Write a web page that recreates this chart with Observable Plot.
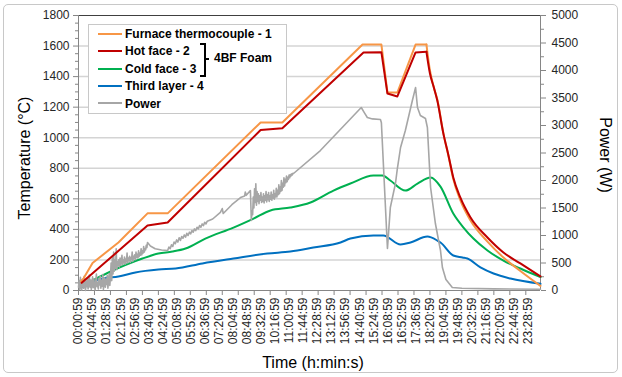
<!DOCTYPE html>
<html><head><meta charset="utf-8">
<script src="https://cdn.jsdelivr.net/npm/d3@7"></script>
<script src="https://cdn.jsdelivr.net/npm/@observablehq/plot@0.6"></script>
<style>
body{margin:0;background:#fff;font-family:"Liberation Sans",Arial,sans-serif;}
#wrap{position:relative;width:622px;height:377px;overflow:hidden;}
#frame{position:absolute;left:3px;top:4px;width:613px;height:367px;border:1px solid #c8c8c8;border-radius:5px;}
.t{position:absolute;font-size:16px;color:#000;white-space:nowrap;}
#legend{position:absolute;left:88px;top:24px;width:197px;height:88px;border:1px solid #c8c8c8;background:#fff;font-weight:bold;font-size:12px;}
.row{position:absolute;left:9px;height:14px;line-height:14px;}
.row i{display:inline-block;width:24px;height:2px;vertical-align:middle;margin-right:3px;position:relative;top:-1px;}
</style></head><body>
<div id="wrap"><div id="frame"></div><div id="chart"></div></div>
<script>
// ---- data (minutes after 00:00:59) ----
const xLabels = ["00:00:59","00:44:59","01:28:59","02:12:59","02:56:59","03:40:59","04:24:59","05:08:59","05:52:59","06:36:59","07:20:59","08:04:59","08:48:59","09:32:59","10:16:59","11:00:59","11:44:59","12:28:59","13:12:59","13:56:59","14:40:59","15:24:59","16:08:59","16:52:59","17:36:59","18:20:59","19:04:59","19:48:59","20:32:59","21:16:59","22:00:59","22:44:59","23:28:59"];
const tempTicks = [0,200,400,600,800,1000,1200,1400,1600,1800];
const powerTicks = [0,500,1000,1500,2000,2500,3000,3500,4000,4500,5000];

const furnaceT = [8,16,44,125,216,279,570,638,889,948,967,998,1055,1089,1100,1112,1123,1142,1158,1173,1195,1227,1280,1330,1383,1446];
const furnaceV = [60,80,180,314,505,505,1100,1100,1610,1610,1296,1296,1610,1610,1440,1330,1250,1030,880,730,592,458,320,216,128,30];

const hotT = [10,216,279,570,638,892,948,967,998,1055,1089,1100,1112,1123,1142,1158,1173,1195,1227,1280,1330,1383,1446];
const hotV = [50,425,445,1050,1062,1558,1560,1289,1270,1558,1562,1420,1330,1243,1027,884,740,609,478,347,249,177,92];

const coldT = [10,31,94,200,250,294,335,397,485,548,601,663,726,798,851,923,951,976,1023,1061,1102,1133,1173,1205,1236,1280,1330,1383,1446];
const coldV = [30,52,118,209,242,255,275,340,412,471,524,543,576,654,700,753,753,720,654,700,740,680,504,412,340,262,196,144,88];

const thirdT = [10,22,75,125,178,250,304,388,485,591,663,735,820,851,923,954,1008,1039,1092,1123,1133,1173,1202,1217,1258,1299,1352,1446];
const thirdV = [20,33,78,92,118,137,144,177,209,242,255,281,314,340,360,360,301,314,353,327,314,229,216,209,151,111,78,44];

// power: noisy early part, every 2 min from 0
const powerEarly = [60,180,20,240,90,10,200,130,40,260,110,0,170,70,230,30,150,280,60,190,20,120,250,50,210,90,10,160,300,70,140,30,220,100,260,40,180,80,290,20,150,230,60,200,110,270,40,170,310,90,240,
 500,180,620,300,700,350,560,400,760,380,520,450,560,430,590,460,520,640,470,560,500,610,480,570,520,680,500,590,540,620,510,600,560,700,530,620,580,650,560,700,600,660,590,720,620,680,640,760,650,720,680,800,700,760,740,820,780,873];
const powerDecayT = [225,240,260,279];
const powerDecayW = [810,760,735,727];
// every 4 min from 283
const powerRise = [790,760,830,800,880,850,920,880,960,910,980,950,1010,970,1040,1000,1060,1030,1090,1060,1120,1090,1150,1120,1180,1150,1210,1180,1240,1210,1260];
const powerMidT = [420,444,450,453,480,507,520,522,525,538,541];
const powerMidW = [1300,1420,1490,1400,1560,1690,1720,1790,1730,1818,1273];
// every 2 min from 543
const powerBand = [1450,1380,1700,1500,1850,1600,1940,1550,1800,1620,1760,1580,1720,1640,1780,1600,1700,1620,1760,1590,1720,1640,1800,1610,1740,1650,1780,1620,1720,1660,1790,1640,1740,1680,1820,1660,1760,1700,1860,1700,1820,1740,1920,1760,1880,1800,2000,1820,1950,1880,2050,1900,2020,1960,2080,1980,2060,2020,2100,2050,2110,2080,2120,2100,2130,2127];
const powerLateT = [757,885,895,904,920,945,948,967,976,992,998,1008,1023,1045,1055,1061,1070,1086,1092,1102,1117,1133,1139,1150,1170,1200,1300,1446];
const powerLateW = [2545,3327,3230,3145,3120,3110,3050,764,1509,1945,2218,2600,2909,3454,3690,3327,3181,3127,2963,1873,1218,727,418,200,55,40,30,22];

// ---- build tables ----
const pairs = (T, V) => T.map((t, i) => ({t, v: V[i]}));
const stepped = (start, step, V) => V.map((v, i) => ({t: start + i * step, v}));
const power = [
  ...stepped(0, 2, powerEarly),
  ...pairs(powerDecayT, powerDecayW),
  ...stepped(283, 4, powerRise),
  ...pairs(powerMidT, powerMidW),
  ...stepped(543, 2, powerBand),
  ...pairs(powerLateT, powerLateW)
].sort((a, b) => a.t - b.t);
const k = 1800 / 5000;
const furnace = pairs(furnaceT, furnaceV), hot = pairs(hotT, hotV);
const coolStart = 1089;

const labelTimes = xLabels.map((_, i) => i * 44);
const labelOf = new Map(labelTimes.map((t, i) => [t, xLabels[i]]));
const tickTimes = d3.range(0, 1401, 50);
const minorTemp = d3.range(0, 1801, 50).filter(v => v % 200);
const minorPower = d3.range(250, 5000, 500).map(p => p * k);

const C = {furnace:"#F79646", hot:"#C00000", cold:"#00B050", third:"#0070C0", power:"#A6A6A6"};
const axisCol = "#868686";

const chart = Plot.plot({
  width: 622, height: 377,
  marginLeft: 78, marginRight: 82, marginTop: 15, marginBottom: 87,
  style: {fontFamily: "'Liberation Sans', Arial, sans-serif", fontSize: "12px", color: "#262626", background: "transparent", overflow: "visible"},
  x: {domain: [0, 1446], axis: null},
  y: {domain: [0, 1800], axis: null},
  marks: [
    Plot.ruleY(tempTicks.filter(v => v > 0 && v < 1800), {stroke: "#d4d4d4", strokeWidth: 1.5}),
    Plot.ruleY([1800], {stroke: "#404040", strokeWidth: 1}),
    Plot.axisY({anchor: "left", ticks: tempTicks, tickSize: 5, tickPadding: 4, tickFormat: d => String(d), stroke: axisCol, label: null}),
    Plot.axisY({anchor: "left", ticks: minorTemp, tickSize: 3, tickFormat: () => "", stroke: axisCol, label: null}),
    Plot.axisY({anchor: "right", ticks: powerTicks.map(p => p * k), tickSize: 5, tickPadding: 6, tickFormat: d => String(Math.round(d / k)), stroke: axisCol, label: null}),
    Plot.axisY({anchor: "right", ticks: minorPower, tickSize: 3, tickFormat: () => "", stroke: axisCol, label: null}),
    Plot.axisX({ticks: tickTimes, tickSize: 5, tickFormat: () => "", stroke: axisCol, label: null}),
    Plot.axisX({ticks: labelTimes, tickSize: 0, tickPadding: 7, tickRotate: -90, tickFormat: d => labelOf.get(d), label: null}),
    Plot.ruleX([0], {stroke: axisCol}),
    Plot.ruleX([1446], {stroke: axisCol}),
    Plot.ruleY([0], {stroke: axisCol}),
    Plot.line(pairs(thirdT, thirdV), {x: "t", y: "v", stroke: C.third, strokeWidth: 2, curve: "monotone-x"}),
    Plot.line(pairs(coldT, coldV), {x: "t", y: "v", stroke: C.cold, strokeWidth: 2, curve: "monotone-x"}),
    Plot.line(power, {x: "t", y: d => d.v * k, stroke: C.power, strokeWidth: 1.6}),
    Plot.line(furnace.filter(d => d.t <= coolStart), {x: "t", y: "v", stroke: C.furnace, strokeWidth: 2}),
    Plot.line(furnace.filter(d => d.t >= coolStart), {x: "t", y: "v", stroke: C.furnace, strokeWidth: 2, curve: "monotone-x"}),
    Plot.line(hot.filter(d => d.t <= coolStart), {x: "t", y: "v", stroke: C.hot, strokeWidth: 2}),
    Plot.line(hot.filter(d => d.t >= coolStart), {x: "t", y: "v", stroke: C.hot, strokeWidth: 2, curve: "monotone-x"})
  ]
});
document.getElementById("chart").appendChild(chart);

const wrap = document.getElementById("wrap");
function addText(txt, css) { const d = document.createElement("div"); d.className = "t"; d.textContent = txt; Object.assign(d.style, css); wrap.appendChild(d); return d; }
addText("Temperature (°C)", {left: "25px", top: "158px", transform: "translate(-50%,-50%) rotate(-90deg)"});
addText("Power (W)", {left: "605px", top: "155px", transform: "translate(-50%,-50%) rotate(90deg)"});
addText("Time (h:min:s)", {left: "313px", top: "363px", transform: "translate(-50%,-50%)"});

// legend
const legendItems = [["Furnace thermocouple - 1", C.furnace], ["Hot face - 2", C.hot], ["Cold face - 3", C.cold], ["Third layer - 4", C.third], ["Power", C.power]];
const lg = document.createElement("div"); lg.id = "legend"; wrap.appendChild(lg);
legendItems.forEach(([name, col], i) => {
  const r = document.createElement("div"); r.className = "row"; r.style.top = (2 + i * 17.4) + "px";
  r.innerHTML = `<i style="background:${col}"></i>${name}`; lg.appendChild(r);
});
const br = document.createElement("div");
Object.assign(br.style, {position: "absolute", left: "111px", top: "18px", width: "4px", height: "30px", borderTop: "2px solid #000", borderRight: "2px solid #000", borderBottom: "2px solid #000"});
lg.appendChild(br);
const bt = document.createElement("div");
Object.assign(bt.style, {position: "absolute", left: "117px", top: "26px", fontSize: "12px"});
bt.innerHTML = '<span style="display:inline-block;width:5px;height:2px;background:#000;vertical-align:middle;margin-right:3px;position:relative;left:-2px"></span>4BF Foam';
lg.appendChild(bt);
</script></body></html>
